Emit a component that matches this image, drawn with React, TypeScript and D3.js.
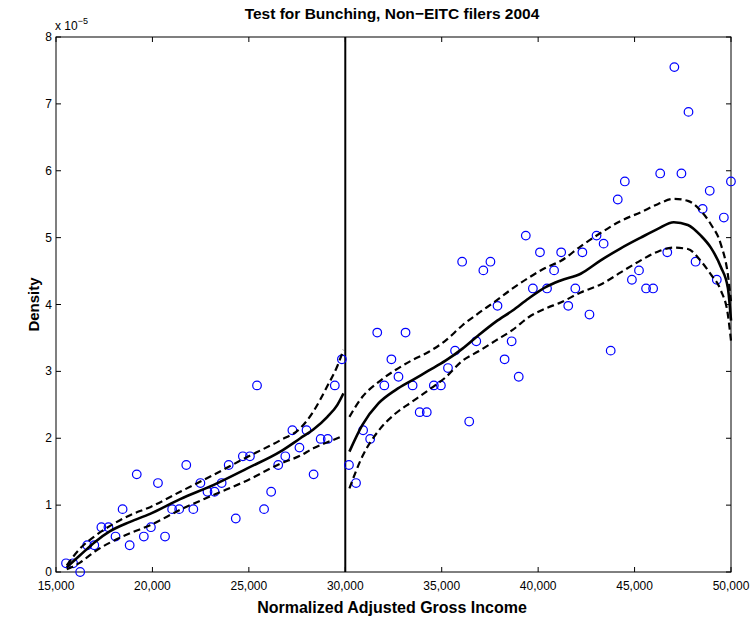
import React from "react";
import * as d3 from "d3";

// ---------- data (density in units of 1e-5) ----------
const leftIncome = [
  15519, 15886, 16253, 16619, 16986, 17353, 17720, 18087, 18453, 18820,
  19187, 19554, 19921, 20287, 20654, 21021, 21388, 21755, 22121, 22488,
  22855, 23222, 23589, 23955, 24322, 24689, 25056, 25423, 25789, 26156,
  26523, 26890, 27257, 27623, 27990, 28357, 28724, 29091, 29457, 29824,
];
const leftDensity = [
  0.13, 0.13, 0.0, 0.4, 0.4, 0.67, 0.67, 0.53, 0.94, 0.4,
  1.46, 0.53, 0.67, 1.33, 0.53, 0.94, 0.94, 1.6, 0.94, 1.33,
  1.2, 1.2, 1.33, 1.6, 0.8, 1.73, 1.73, 2.79, 0.94, 1.2,
  1.6, 1.73, 2.12, 1.86, 2.12, 1.46, 1.99, 1.99, 2.79, 3.18,
];
const rightIncome = [
  30190, 30557, 30924, 31290, 31657, 32024, 32391, 32758, 33124, 33491,
  33858, 34225, 34592, 34958, 35325, 35692, 36059, 36426, 36792, 37159,
  37526, 37893, 38260, 38626, 38993, 39360, 39727, 40094, 40460, 40827,
  41194, 41561, 41928, 42294, 42661, 43028, 43395, 43762, 44128, 44495,
  44862, 45229, 45596, 45962, 46329, 46696, 47063, 47430, 47796, 48163,
  48530, 48897, 49264, 49630, 49997,
];
const rightDensity = [
  1.6, 1.33, 2.12, 1.99, 3.58, 2.79, 3.18, 2.92, 3.58, 2.79,
  2.39, 2.39, 2.79, 2.79, 3.05, 3.31, 4.64, 2.25, 3.45, 4.51,
  4.64, 3.98, 3.18, 3.45, 2.92, 5.03, 4.24, 4.78, 4.24, 4.51,
  4.78, 3.98, 4.24, 4.78, 3.85, 5.03, 4.91, 3.31, 5.57, 5.84,
  4.37, 4.51, 4.24, 4.24, 5.96, 4.78, 7.55, 5.96, 6.88, 4.64,
  5.43, 5.7, 4.37, 5.3, 5.84,
];

const leftFitIncome = [
  15556, 16246, 17025, 17804, 18842, 19880, 21438, 23151, 24917, 26630,
  27668, 28343, 29070, 29590, 29901,
];
const leftFit = [0.07, 0.25, 0.45, 0.61, 0.75, 0.87, 1.09, 1.3, 1.55, 1.8, 2.0, 2.13, 2.32, 2.5, 2.67];
const leftUpper = [0.1, 0.35, 0.54, 0.69, 0.85, 0.97, 1.2, 1.45, 1.72, 1.97, 2.15, 2.4, 2.78, 3.08, 3.32];
const leftLower = [0.04, 0.14, 0.31, 0.44, 0.58, 0.7, 0.93, 1.15, 1.37, 1.62, 1.74, 1.85, 1.94, 2.0, 2.04];

const rightFitIncome = [
  30213, 30888, 31718, 32601, 33484, 34314, 35197, 36080, 36910, 37793,
  38676, 39506, 40389, 41168, 42206, 43244, 44283, 45321, 46203, 47034,
  47761, 48436, 48955, 49474, 49837, 50000,
];
const rightFit = [
  1.8, 2.2, 2.52, 2.72, 2.87, 3.01, 3.16, 3.34, 3.54, 3.74,
  3.91, 4.09, 4.26, 4.36, 4.46, 4.66, 4.84, 5.0, 5.13, 5.23,
  5.19, 5.03, 4.85, 4.56, 4.25, 3.76,
];
const rightUpper = [
  2.32, 2.62, 2.84, 3.02, 3.17, 3.29, 3.46, 3.69, 3.87, 4.05,
  4.24, 4.4, 4.55, 4.65, 4.87, 5.07, 5.25, 5.38, 5.5, 5.58,
  5.55, 5.4, 5.2, 4.9, 4.45, 4.05,
];
const rightLower = [
  1.25, 1.73, 2.11, 2.37, 2.55, 2.72, 2.91, 3.16, 3.3, 3.46,
  3.62, 3.81, 3.94, 4.03, 4.18, 4.3, 4.48, 4.66, 4.79, 4.85,
  4.83, 4.65, 4.45, 4.21, 3.85, 3.46,
];

const xTicks = [15000, 20000, 25000, 30000, 35000, 40000, 45000, 50000];
const yTicks = [0, 1, 2, 3, 4, 5, 6, 7, 8];
const cutoff = 30000;

const titleText = "Test for Bunching, Non\u2212EITC filers 2004";
const xLabel = "Normalized Adjusted Gross Income";
const yLabel = "Density";

const FONT = "'Liberation Sans', Arial, Helvetica, sans-serif";

export default function App() {
  const W = 752;
  const H = 622;
  const left = 56, right = 731, top = 37, bottom = 572;
  const x = d3.scaleLinear().domain([15000, 50000]).range([left, right]);
  const y = d3.scaleLinear().domain([0, 8]).range([bottom, top]);

  const path = (xs: number[], ys: number[]) =>
    d3
      .line<number>()
      .x((_, i) => x(xs[i]))
      .y((d) => y(d))
      .curve(d3.curveMonotoneX)(ys) || "";

  const fmt = d3.format(",");
  const tick = 5;
  const tickFont = 12;

  return (
    <svg
      width={W}
      height={H}
      style={{ position: "absolute", left: 0, top: 0, background: "#fff" }}
      fontFamily={FONT}
    >
      <rect x={0} y={0} width={W} height={H} fill="#fff" />
      {/* title */}
      <text x={392} y={19} textAnchor="middle" fontWeight="bold" fontSize={15.5}>
        {titleText}
      </text>
      {/* exponent label */}
      <text x={55} y={30} fontSize={12}>
        x 10
        <tspan dy={-6} fontSize={9}>
          −5
        </tspan>
      </text>

      {/* ticks */}
      {xTicks.map((t) => (
        <g key={"xt" + t}>
          <line x1={x(t)} x2={x(t)} y1={bottom} y2={bottom - tick} stroke="#000" />
          <line x1={x(t)} x2={x(t)} y1={top} y2={top + tick} stroke="#000" />
          <text x={x(t)} y={bottom + 18} textAnchor="middle" fontSize={tickFont}>
            {fmt(t)}
          </text>
        </g>
      ))}
      {yTicks.map((t) => (
        <g key={"yt" + t}>
          <line x1={left} x2={left + tick} y1={y(t)} y2={y(t)} stroke="#000" />
          <line x1={right} x2={right - tick} y1={y(t)} y2={y(t)} stroke="#000" />
          <text x={left - 4} y={y(t) + 4} textAnchor="end" fontSize={tickFont}>
            {t}
          </text>
        </g>
      ))}

      {/* frame */}
      <rect
        x={left}
        y={top}
        width={right - left}
        height={bottom - top}
        fill="none"
        stroke="#000"
        strokeWidth={1}
      />

      {/* cutoff line */}
      <line x1={x(cutoff)} x2={x(cutoff)} y1={top} y2={bottom} stroke="#000" strokeWidth={2} />

      {/* points */}
      {leftIncome.map((v, i) => (
        <circle
          key={"lp" + i}
          cx={x(v)}
          cy={y(leftDensity[i])}
          r={4.3}
          fill="none"
          stroke="#0000ff"
          strokeWidth={1.2}
        />
      ))}
      {rightIncome.map((v, i) => (
        <circle
          key={"rp" + i}
          cx={x(v)}
          cy={y(rightDensity[i])}
          r={4.3}
          fill="none"
          stroke="#0000ff"
          strokeWidth={1.2}
        />
      ))}

      {/* fitted curves */}
      <path d={path(leftFitIncome, leftFit)} fill="none" stroke="#000" strokeWidth={2.6} />
      <path d={path(leftFitIncome, leftUpper)} fill="none" stroke="#000" strokeWidth={2.2} strokeDasharray="7,4" />
      <path d={path(leftFitIncome, leftLower)} fill="none" stroke="#000" strokeWidth={2.2} strokeDasharray="7,4" />
      <path d={path(rightFitIncome, rightFit)} fill="none" stroke="#000" strokeWidth={2.6} />
      <path d={path(rightFitIncome, rightUpper)} fill="none" stroke="#000" strokeWidth={2.2} strokeDasharray="7,4" />
      <path d={path(rightFitIncome, rightLower)} fill="none" stroke="#000" strokeWidth={2.2} strokeDasharray="7,4" />

      {/* axis labels */}
      <text x={392} y={613} textAnchor="middle" fontWeight="bold" fontSize={16}>
        {xLabel}
      </text>
      <text
        transform={`translate(39,${(top + bottom) / 2}) rotate(-90)`}
        textAnchor="middle"
        fontWeight="bold"
        fontSize={15}
      >
        {yLabel}
      </text>
    </svg>
  );
}
